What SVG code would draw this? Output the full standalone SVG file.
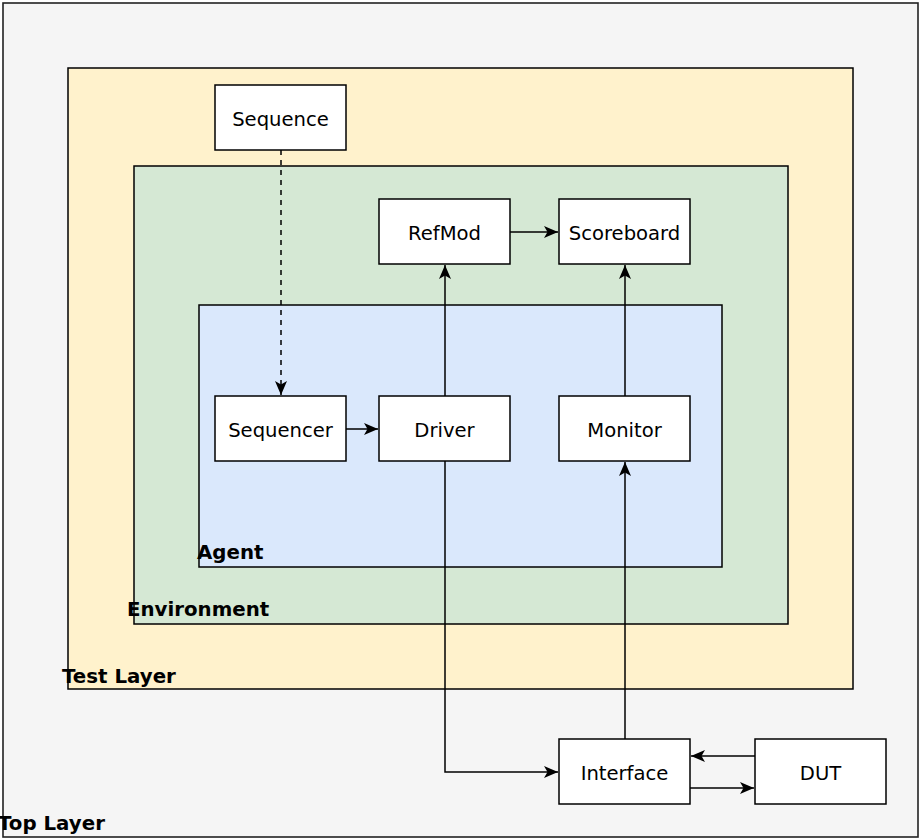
<svg xmlns="http://www.w3.org/2000/svg" width="920" height="840" viewBox="0 0 920 840">
  <style>
    .box { fill: #ffffff; stroke: #000000; stroke-width: 1.5; }
    .lbl { font-family: "DejaVu Sans", "Liberation Sans", sans-serif; font-size: 19.6px; fill: #000000; text-anchor: middle; dominant-baseline: central; }
    .layer-lbl { font-family: "DejaVu Sans", "Liberation Sans", sans-serif; font-size: 19.8px; font-weight: bold; fill: #000000; }
    .edge { fill: none; stroke: #000000; stroke-width: 1.5; }
    .dash { stroke-dasharray: 5 5; }
  </style>
  <defs>
    <marker id="arrow" viewBox="0 0 14 13" refX="14" refY="6.5" markerWidth="14" markerHeight="13" markerUnits="userSpaceOnUse" orient="auto">
      <path d="M0,0.5 L14,6.5 L0,12.5 L3.5,6.5 z" fill="#000000"/>
    </marker>
  </defs>

  <!-- nested layers -->
  <g id="top-layer">
    <rect x="3" y="3" width="915" height="834" fill="#f5f5f5" stroke="#222222" stroke-width="1.6"/>
    <text class="layer-lbl" x="-2" y="830">Top Layer</text>
  </g>
  <g id="test-layer">
    <rect x="68" y="68" width="785" height="621" fill="#fff2cc" stroke="#000000" stroke-width="1.5"/>
    <text class="layer-lbl" x="62" y="683">Test Layer</text>
  </g>
  <g id="environment">
    <rect x="134" y="166" width="654" height="458" fill="#d5e8d4" stroke="#000000" stroke-width="1.5"/>
    <text class="layer-lbl" x="127" y="616">Environment</text>
  </g>
  <g id="agent">
    <rect x="199" y="305" width="523" height="262" fill="#dae8fc" stroke="#000000" stroke-width="1.5"/>
    <text class="layer-lbl" x="197" y="559">Agent</text>
  </g>

  <!-- components -->
  <g id="sequence">
    <rect class="box" x="215" y="85" width="131" height="65"/>
    <text class="lbl" x="280.5" y="119">Sequence</text>
  </g>
  <g id="refmod">
    <rect class="box" x="379" y="199" width="131" height="65"/>
    <text class="lbl" x="444.5" y="233">RefMod</text>
  </g>
  <g id="scoreboard">
    <rect class="box" x="559" y="199" width="131" height="65"/>
    <text class="lbl" x="624.5" y="233">Scoreboard</text>
  </g>
  <g id="sequencer">
    <rect class="box" x="215" y="396" width="131" height="65"/>
    <text class="lbl" x="280.5" y="430">Sequencer</text>
  </g>
  <g id="driver">
    <rect class="box" x="379" y="396" width="131" height="65"/>
    <text class="lbl" x="444.5" y="430">Driver</text>
  </g>
  <g id="monitor">
    <rect class="box" x="559" y="396" width="131" height="65"/>
    <text class="lbl" x="624.5" y="430">Monitor</text>
  </g>
  <g id="interface">
    <rect class="box" x="559" y="739" width="131" height="65"/>
    <text class="lbl" x="624.5" y="773">Interface</text>
  </g>
  <g id="dut">
    <rect class="box" x="755" y="739" width="131" height="65"/>
    <text class="lbl" x="820.5" y="773">DUT</text>
  </g>

  <!-- connectors -->
  <g id="connectors">
    <path class="edge dash" d="M281,150 L281,395" marker-end="url(#arrow)"/>
    <path class="edge" d="M346,429 L378,429" marker-end="url(#arrow)"/>
    <path class="edge" d="M445,396 L445,265" marker-end="url(#arrow)"/>
    <path class="edge" d="M510,232 L558,232" marker-end="url(#arrow)"/>
    <path class="edge" d="M625,396 L625,265" marker-end="url(#arrow)"/>
    <path class="edge" d="M445,461 L445,772 L558,772" marker-end="url(#arrow)"/>
    <path class="edge" d="M625,739 L625,462" marker-end="url(#arrow)"/>
    <path class="edge" d="M755,756 L691,756" marker-end="url(#arrow)"/>
    <path class="edge" d="M690,788 L754,788" marker-end="url(#arrow)"/>
  </g>
</svg>
